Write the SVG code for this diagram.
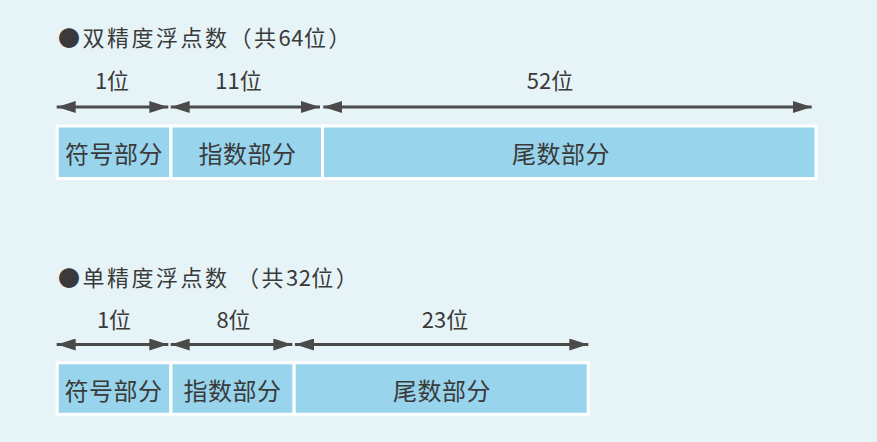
<svg xmlns="http://www.w3.org/2000/svg" width="877" height="442" viewBox="0 0 877 442">
  <defs>
    <style>
      .t { font-family: "Noto Sans CJK SC", "Noto Sans CJK JP", sans-serif; fill: #3a3a3a; }
      .title { font-size: 22px; letter-spacing: 2.5px; }
      .num { letter-spacing: 0.5px; }
      .lbl { font-size: 22px; text-anchor: middle; }
      .box { fill: #98d4ec; stroke: #ffffff; stroke-width: 3; }
      .bl { font-size: 24px; text-anchor: middle; letter-spacing: 0.5px; }
      .arr { stroke: #4a4a4a; stroke-width: 3; fill: none; marker-start: url(#ah); marker-end: url(#ah); }
    </style>
    <marker id="ah" viewBox="0 0 19 12" markerWidth="19" markerHeight="12" markerUnits="userSpaceOnUse" refX="19" refY="6" orient="auto-start-reverse">
      <path d="M0,0 L19,6 L0,12 Z" fill="#4a4a4a"/>
    </marker>
  </defs>
  <rect x="0" y="0" width="877" height="442" fill="#e6f4f8"/>

  <g id="titles">
    <text id="title-double" class="t title" x="58" y="46">●双精度浮点数（共<tspan class="num">64</tspan>位）</text>
    <text id="title-single" class="t title" x="58" y="286">●单精度浮点数 （共<tspan class="num">32</tspan>位）</text>
  </g>

  <g id="double-nodes">
    <g id="d-sign">
      <rect class="box" x="57.25" y="126" width="113.5" height="52.5"/>
      <text class="t bl" x="114" y="162.5">符号部分</text>
    </g>
    <g id="d-exp">
      <rect class="box" x="171" y="126" width="151.5" height="52.5"/>
      <text class="t bl" x="247.5" y="162.5">指数部分</text>
    </g>
    <g id="d-man">
      <rect class="box" x="322.5" y="126" width="493.5" height="52.5"/>
      <text class="t bl" x="561" y="162.5">尾数部分</text>
    </g>
  </g>

  <g id="single-nodes">
    <g id="s-sign">
      <rect class="box" x="57.25" y="362.75" width="113.5" height="51.5"/>
      <text class="t bl" x="113.5" y="399.5">符号部分</text>
    </g>
    <g id="s-exp">
      <rect class="box" x="171" y="362.75" width="123" height="51.5"/>
      <text class="t bl" x="232.5" y="399.5">指数部分</text>
    </g>
    <g id="s-man">
      <rect class="box" x="294.2" y="362.75" width="294" height="51.5"/>
      <text class="t bl" x="442" y="399.5">尾数部分</text>
    </g>
  </g>

  <g id="connectors">
    <line class="arr" x1="56.7" y1="107" x2="168.3" y2="107"/>
    <line class="arr" x1="170.7" y1="107" x2="320" y2="107"/>
    <line class="arr" x1="323.3" y1="107" x2="811.7" y2="107"/>
    <line class="arr" x1="56.7" y1="344.5" x2="168.3" y2="344.5"/>
    <line class="arr" x1="170.7" y1="344.5" x2="292.3" y2="344.5"/>
    <line class="arr" x1="295" y1="344.5" x2="588.3" y2="344.5"/>
  </g>

  <g id="labels">
    <text class="t lbl" x="112" y="88.5">1位</text>
    <text class="t lbl" x="238.5" y="88.5">11位</text>
    <text class="t lbl" x="550" y="88.5">52位</text>
    <text class="t lbl" x="114" y="327.5">1位</text>
    <text class="t lbl" x="233.5" y="327.5">8位</text>
    <text class="t lbl" x="445" y="327.5">23位</text>
  </g>
</svg>
